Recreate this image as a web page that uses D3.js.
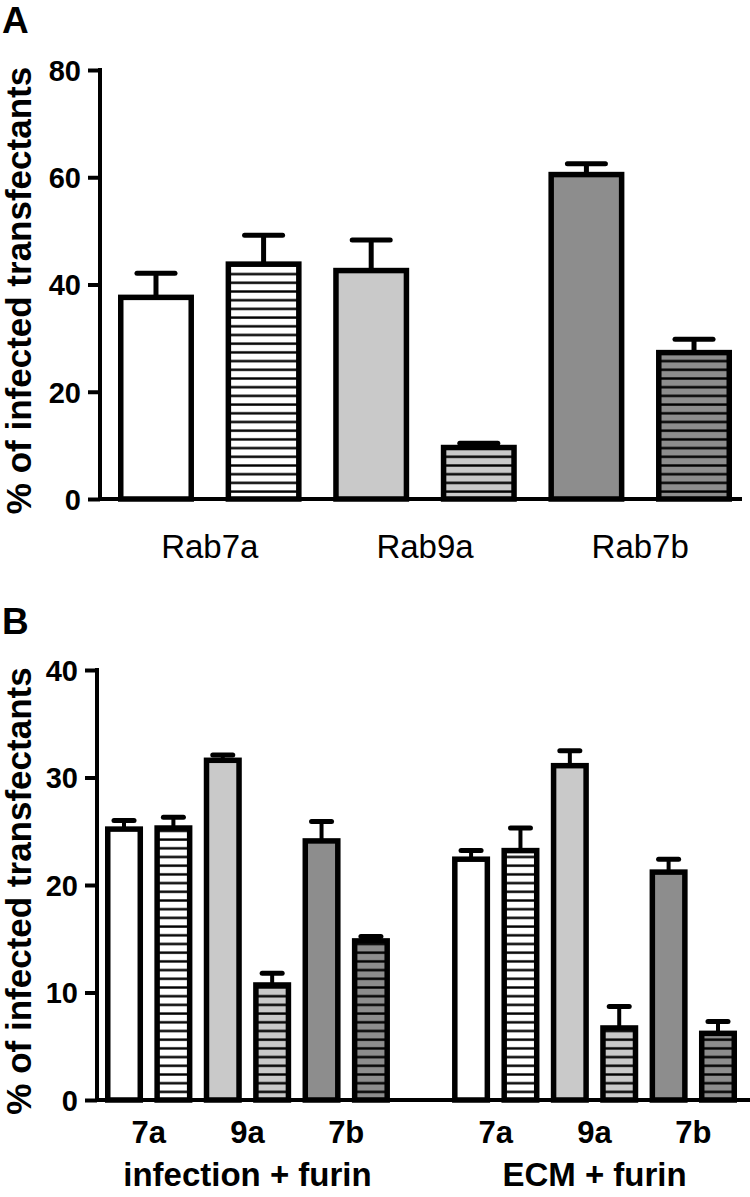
<!DOCTYPE html>
<html>
<head>
<meta charset="utf-8">
<script src="https://cdn.jsdelivr.net/npm/d3@7"></script>
<style>
  html, body { margin: 0; padding: 0; background: #ffffff; }
  svg { display: block; }
  text { font-family: "Liberation Sans", Arial, Helvetica, sans-serif; fill: #000; }
</style>
</head>
<body>
<svg id="chart" width="750" height="1197"></svg>
<script>
// ---------------- DATA ----------------
// Panel A
const ticksA = [0, 20, 40, 60, 80];
const groupsA = ["Rab7a", "Rab9a", "Rab7b"];
const barKeysA = ["Rab7a", "Rab7a hatched", "Rab9a", "Rab9a hatched", "Rab7b", "Rab7b hatched"];
const valuesA = [37.6, 43.8, 42.6, 9.6, 60.5, 27.3];
const errorsA = [4.5, 5.4, 5.7, 0.8, 2.0, 2.5];

// Panel B
const ticksB = [0, 10, 20, 30, 40];
const groupsB = ["infection + furin", "ECM + furin"];
const barKeysB = ["7a", "7a hatched", "9a", "9a hatched", "7b", "7b hatched"];
const pairLabelsB = ["7a", "9a", "7b"];
const valuesInfection = [25.2, 25.3, 31.6, 10.7, 24.1, 14.8];
const errorsInfection = [0.8, 1.0, 0.5, 1.1, 1.8, 0.4];
const valuesECM = [22.4, 23.2, 31.1, 6.7, 21.2, 6.2];
const errorsECM = [0.8, 2.1, 1.4, 2.0, 1.2, 1.1];

const yLabel = "% of infected transfectants";

// ---------------- STYLE ----------------
const baseFills = ["#ffffff", "#ffffff", "#c9c9c9", "#c9c9c9", "#8d8d8d", "#8d8d8d"];
const hatched = [false, true, false, true, false, true];

const svg = d3.select("#chart");
const defs = svg.append("defs");
const patternIds = {};
["#ffffff", "#c9c9c9", "#8d8d8d"].forEach((c, i) => {
  const id = "hatch" + i;
  patternIds[c] = id;
  const p = defs.append("pattern")
    .attr("id", id)
    .attr("patternUnits", "userSpaceOnUse")
    .attr("width", 10)
    .attr("height", 8.7);
  p.append("rect").attr("width", 10).attr("height", 8.7).attr("fill", c);
  p.append("rect").attr("x", 0).attr("y", 3.2).attr("width", 10).attr("height", 2.4).attr("fill", "#000");
});
function fillFor(i) {
  return hatched[i] ? `url(#${patternIds[baseFills[i]]})` : baseFills[i];
}

// ---------------- PANEL A ----------------
const yA = d3.scaleLinear().domain([0, 80]).range([499, 70]);
const xA = d3.scaleBand().domain(barKeysA).range([118, 732]).paddingInner(0.294).paddingOuter(0);
const gA = svg.append("g");

// bars
const strokeW = 5.5;
const barsA = barKeysA.map((k, i) => ({ key: k, v: valuesA[i], e: errorsA[i], i }));
gA.selectAll("g.errA").data(barsA).join("g").attr("class", "errA").each(function (d) {
  const g = d3.select(this);
  const cx = xA(d.key) + xA.bandwidth() / 2;
  g.append("line").attr("x1", cx).attr("x2", cx).attr("y1", yA(d.v)).attr("y2", yA(d.v + d.e))
    .attr("stroke", "#000").attr("stroke-width", 5);
  g.append("line").attr("x1", cx - 19).attr("x2", cx + 19).attr("y1", yA(d.v + d.e)).attr("y2", yA(d.v + d.e))
    .attr("stroke", "#000").attr("stroke-width", 5).attr("stroke-linecap", "round");
});
gA.selectAll("rect.barA").data(barsA).join("rect").attr("class", "barA")
  .attr("x", d => xA(d.key) + strokeW / 2)
  .attr("width", xA.bandwidth() - strokeW)
  .attr("y", d => yA(d.v))
  .attr("height", d => yA(0) - yA(d.v))
  .attr("fill", d => fillFor(d.i))
  .attr("stroke", "#000").attr("stroke-width", strokeW);

// axes
const axisA = gA.append("g").attr("transform", "translate(100,0)")
  .call(d3.axisLeft(yA).tickValues(ticksA).tickSize(12).tickSizeOuter(0).tickPadding(7));
axisA.select(".domain").attr("stroke-width", 4).attr("d", `M0,${yA(80) - 2}V${yA(0)}`);
axisA.selectAll(".tick line").attr("stroke-width", 4);
axisA.selectAll(".tick text").attr("font-size", 29).attr("font-weight", "bold")
  .attr("font-family", "Liberation Sans, Arial, sans-serif").attr("dy", "0.36em");
gA.append("line").attr("x1", 98).attr("x2", 742).attr("y1", yA(0)).attr("y2", yA(0))
  .attr("stroke", "#000").attr("stroke-width", 4);

// category labels A
gA.selectAll("text.catA").data(groupsA).join("text").attr("class", "catA")
  .attr("x", (d, i) => (xA(barKeysA[2 * i]) + xA(barKeysA[2 * i + 1]) + xA.bandwidth()) / 2)
  .attr("y", 558)
  .attr("text-anchor", "middle")
  .attr("font-size", 33)
  .text(d => d);

// y title A
gA.append("text").attr("transform", `translate(31,${(yA(0) + yA(80)) / 2 + 6}) rotate(-90)`)
  .attr("text-anchor", "middle").attr("font-size", 35).attr("font-weight", "bold").text(yLabel);
// panel letter
svg.append("text").attr("x", 2).attr("y", 33).attr("font-size", 37).attr("font-weight", "bold").text("A");

// ---------------- PANEL B ----------------
const yB = d3.scaleLinear().domain([0, 40]).range([1100, 670]);
const x0B = d3.scaleBand().domain(groupsB).range([105, 737]).paddingInner(0.179).paddingOuter(0);
const x1B = d3.scaleBand().domain(barKeysB).range([0, x0B.bandwidth()]).paddingInner(0.23).paddingOuter(0);
const gB = svg.append("g");

const seriesB = [
  { group: groupsB[0], vals: valuesInfection, errs: errorsInfection },
  { group: groupsB[1], vals: valuesECM, errs: errorsECM }
];
const barsB = [];
seriesB.forEach(s => barKeysB.forEach((k, i) => barsB.push({ group: s.group, key: k, v: s.vals[i], e: s.errs[i], i })));

gB.selectAll("g.errB").data(barsB).join("g").attr("class", "errB").each(function (d) {
  const g = d3.select(this);
  const cx = x0B(d.group) + x1B(d.key) + x1B.bandwidth() / 2;
  g.append("line").attr("x1", cx).attr("x2", cx).attr("y1", yB(d.v)).attr("y2", yB(d.v + d.e))
    .attr("stroke", "#000").attr("stroke-width", 4);
  g.append("line").attr("x1", cx - 10).attr("x2", cx + 10).attr("y1", yB(d.v + d.e)).attr("y2", yB(d.v + d.e))
    .attr("stroke", "#000").attr("stroke-width", 5).attr("stroke-linecap", "round");
});
gB.selectAll("rect.barB").data(barsB).join("rect").attr("class", "barB")
  .attr("x", d => x0B(d.group) + x1B(d.key) + strokeW / 2)
  .attr("width", x1B.bandwidth() - strokeW)
  .attr("y", d => yB(d.v))
  .attr("height", d => yB(0) - yB(d.v))
  .attr("fill", d => fillFor(d.i))
  .attr("stroke", "#000").attr("stroke-width", strokeW);

const axisB = gB.append("g").attr("transform", "translate(97,0)")
  .call(d3.axisLeft(yB).tickValues(ticksB).tickSize(12).tickSizeOuter(0).tickPadding(7));
axisB.select(".domain").attr("stroke-width", 4).attr("d", `M0,${yB(40) - 2}V${yB(0)}`);
axisB.selectAll(".tick line").attr("stroke-width", 4);
axisB.selectAll(".tick text").attr("font-size", 29).attr("font-weight", "bold")
  .attr("font-family", "Liberation Sans, Arial, sans-serif").attr("dy", "0.36em");
gB.append("line").attr("x1", 95).attr("x2", 750).attr("y1", yB(0)).attr("y2", yB(0))
  .attr("stroke", "#000").attr("stroke-width", 4);

// pair labels
groupsB.forEach(grp => {
  gB.selectAll(null).data(pairLabelsB).join("text")
    .attr("x", (d, i) => x0B(grp) + (x1B(barKeysB[2 * i]) + x1B(barKeysB[2 * i + 1]) + x1B.bandwidth()) / 2)
    .attr("y", 1143)
    .attr("text-anchor", "middle").attr("font-size", 31).attr("font-weight", "bold")
    .text(d => d);
});
gB.selectAll("text.grpB").data(groupsB).join("text").attr("class", "grpB")
  .attr("x", d => x0B(d) + x0B.bandwidth() / 2)
  .attr("y", 1186)
  .attr("text-anchor", "middle").attr("font-size", 33).attr("font-weight", "bold")
  .text(d => d);

gB.append("text").attr("transform", `translate(31,${(yB(0) + yB(40)) / 2 + 6}) rotate(-90)`)
  .attr("text-anchor", "middle").attr("font-size", 35).attr("font-weight", "bold").text(yLabel);
svg.append("text").attr("x", 2).attr("y", 634).attr("font-size", 37).attr("font-weight", "bold").text("B");
</script>
</body>
</html>
